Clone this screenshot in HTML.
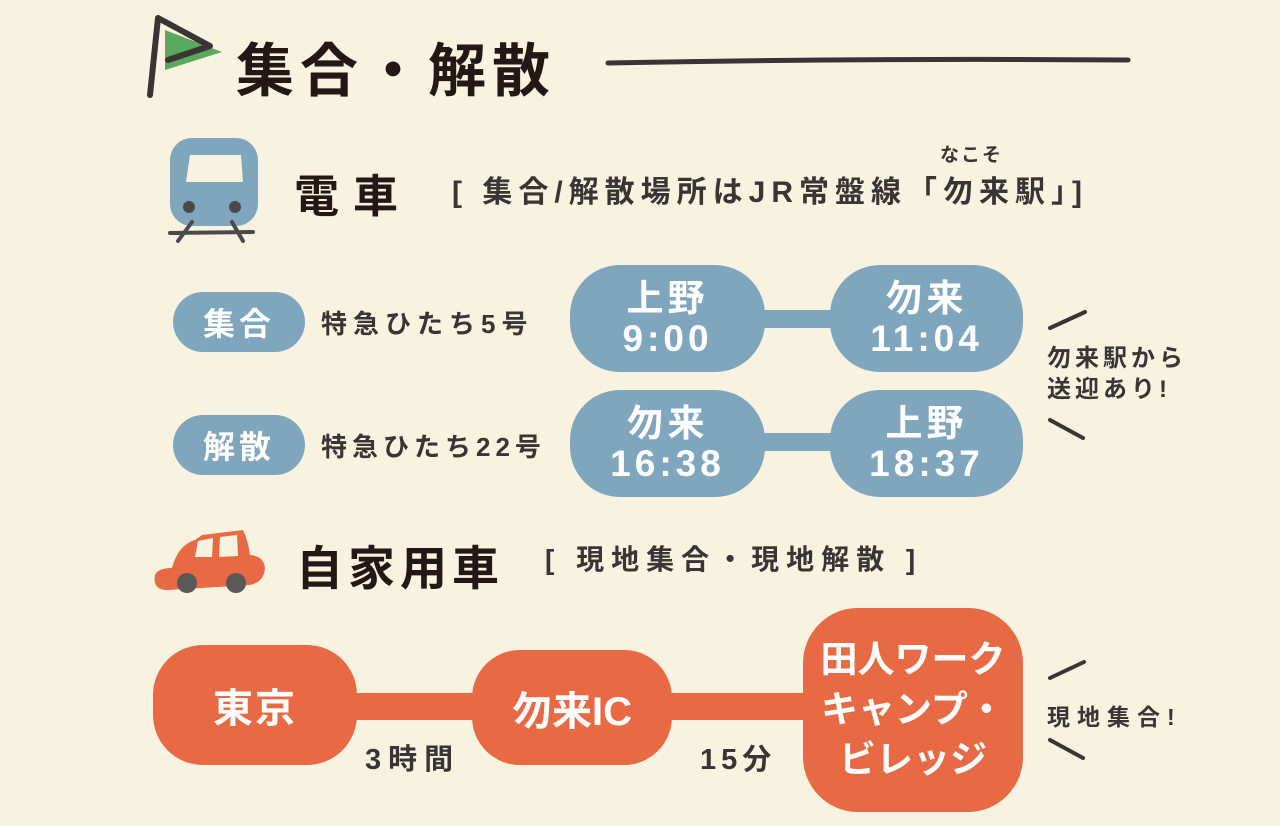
<!DOCTYPE html>
<html><head><meta charset="utf-8"><style>
html,body{margin:0;padding:0}
body{width:1280px;height:826px;background:#f8f3e1;position:relative;overflow:hidden;font-family:"Liberation Sans","Noto Sans CJK JP",sans-serif;color:#231815}
.a{position:absolute;white-space:nowrap}
.b{font-weight:bold}
.pill{position:absolute;background:#7fa6bd;color:#fff;font-weight:bold;display:flex;align-items:center;justify-content:center;text-align:center}
.or{position:absolute;background:#e86a45;color:#fff;font-weight:bold;display:flex;align-items:center;justify-content:center;text-align:center}
</style></head><body>
<svg class="a" style="left:0;top:0" width="1280" height="826">
<polygon points="165,30 222,52 165,70" fill="#5aa85e"/>
<polyline points="150,95 158,18 210,46 168,60" fill="none" stroke="#3a3535" stroke-width="6" stroke-linecap="round" stroke-linejoin="round"/>
<path d="M608,63 Q860,58 1128,60" stroke="#3a3535" stroke-width="5" fill="none" stroke-linecap="round"/>
<rect x="170" y="138" width="88" height="88" rx="22" fill="#7fa6bd"/>
<polygon points="190,155 241,155 243,182 186,182" fill="#f8f3e1"/>
<circle cx="189" cy="207" r="6" fill="#4a4a4a"/>
<circle cx="235" cy="207" r="6" fill="#4a4a4a"/>
<path d="M170,233 L253,232 M192,222 L178,241 M232,222 L243,241" stroke="#4a4a4a" stroke-width="4" stroke-linecap="round"/>
<rect x="760" y="310" width="75" height="18" fill="#7fa6bd"/>
<rect x="760" y="433" width="75" height="18" fill="#7fa6bd"/>
<g stroke="#3a3535" stroke-width="4" stroke-linecap="round">
<line x1="1050" y1="328" x2="1085" y2="312"/>
<line x1="1050" y1="420" x2="1083" y2="438"/>
<line x1="1050" y1="678" x2="1084" y2="662"/>
<line x1="1050" y1="740" x2="1083" y2="758"/>
</g>
<path d="M172,568 Q178,545 195,540 L202,535 L243,530 Q248,540 250,555 Q264,556 265,568 Q264,582 250,585 L168,590 Q152,590 155,575 Q158,568 172,568Z" fill="#e86a45"/>
<polygon points="198,541 213,538 212,557 195,557" fill="#f8f3e1"/>
<polygon points="220,537 237,535 238,556 219,557" fill="#f8f3e1"/>
<circle cx="187" cy="583" r="10" fill="#5a5858"/>
<circle cx="236" cy="583" r="10" fill="#5a5858"/>
<rect x="350" y="693" width="130" height="27" fill="#e86a45"/>
<rect x="665" y="693" width="145" height="27" fill="#e86a45"/>
</svg>
<div class="a b" style="left:236px;top:24px;font-size:58px;letter-spacing:6px">集合・解散</div>
<div class="a b" style="left:294px;top:160px;font-size:45px;letter-spacing:14px">電車</div>
<div class="a b" style="left:452px;top:167px;font-size:30px;letter-spacing:6px;color:#3a3535">[ 集合/解散場所はJR常盤線「勿来駅」]</div>
<div class="a b" style="left:940px;top:140px;font-size:19px;letter-spacing:2px;color:#3a3535">なこそ</div>
<div class="pill" style="left:173px;top:292px;width:132px;height:60px;border-radius:30px;font-size:32px;letter-spacing:4px">集合</div>
<div class="pill" style="left:173px;top:415px;width:132px;height:60px;border-radius:30px;font-size:32px;letter-spacing:4px">解散</div>
<div class="a b" style="left:321px;top:304px;font-size:26px;letter-spacing:6px;color:#3a3535">特急ひたち5号</div>
<div class="a b" style="left:321px;top:427px;font-size:26px;letter-spacing:5px;color:#3a3535">特急ひたち22号</div>
<div class="pill" style="left:570px;top:265px;width:195px;height:107px;border-radius:50px;font-size:37px;line-height:40px;letter-spacing:4px">上野<br>9:00</div>
<div class="pill" style="left:830px;top:265px;width:193px;height:107px;border-radius:50px;font-size:37px;line-height:40px;letter-spacing:4px">勿来<br>11:04</div>
<div class="pill" style="left:570px;top:390px;width:195px;height:107px;border-radius:50px;font-size:37px;line-height:40px;letter-spacing:4px">勿来<br>16:38</div>
<div class="pill" style="left:830px;top:390px;width:193px;height:107px;border-radius:50px;font-size:37px;line-height:40px;letter-spacing:4px">上野<br>18:37</div>
<div class="a b" style="left:1047px;top:343px;font-size:24px;line-height:31px;letter-spacing:4px;color:#3a3535">勿来駅から<br>送迎あり!</div>
<div class="a b" style="left:296px;top:530px;font-size:47px;letter-spacing:5px">自家用車</div>
<div class="a b" style="left:545px;top:538px;font-size:28px;letter-spacing:7px;color:#3a3535">[ 現地集合・現地解散 ]</div>
<div class="or" style="left:153px;top:645px;width:204px;height:120px;border-radius:50px;font-size:40px;letter-spacing:2px">東京</div>
<div class="or" style="left:472px;top:650px;width:200px;height:115px;border-radius:48px;font-size:40px">勿来IC</div>
<div class="or" style="left:803px;top:608px;width:220px;height:204px;border-radius:55px;font-size:37px;line-height:50px">田人ワーク<br>キャンプ・<br>ビレッジ</div>
<div class="a b" style="left:365px;top:736px;font-size:29px;letter-spacing:7px;color:#3a3535">3時間</div>
<div class="a b" style="left:700px;top:736px;font-size:29px;letter-spacing:5px;color:#3a3535">15分</div>
<div class="a b" style="left:1047px;top:698px;font-size:23px;letter-spacing:7px;color:#3a3535">現地集合!</div>
</body></html>
